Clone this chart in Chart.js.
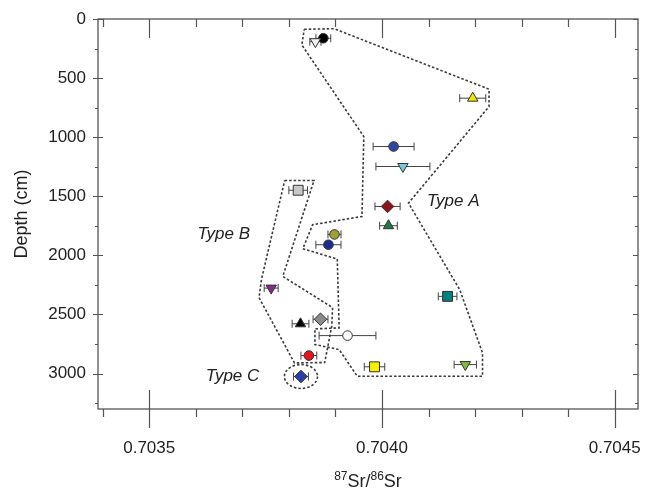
<!DOCTYPE html>
<html>
<head>
<meta charset="utf-8">
<script src="https://cdn.jsdelivr.net/npm/chart.js@4"></script>
<style>
  body { margin: 0; background: #fff; }
  #srChart { display: block; }
</style>
</head>
<body>
<canvas id="srChart" width="646" height="494"></canvas>
<script>
// Amostras: razão 87Sr/86Sr, profundidade (cm) e erro (2σ)
const sampleRatio = [0.703874, 0.703857, 0.704195, 0.704025, 0.704045, 0.703820, 0.704012, 0.704014, 0.703898, 0.703885,
                     0.703762, 0.704141, 0.703825, 0.703868, 0.703926, 0.703843, 0.703984, 0.704179, 0.703826];
const sampleDepth = [163, 192, 670, 1079, 1248, 1449, 1586, 1749, 1823, 1910,
                     2277, 2347, 2579, 2541, 2679, 2848, 2943, 2924, 3025];
const sampleError = [0.000016, 0.000012, 0.000028, 0.000044, 0.000058, 0.000020, 0.000027, 0.000019, 0.000014, 0.000027,
                     0.000015, 0.000020, 0.000018, 0.000016, 0.000061, 0.000017, 0.000022, 0.000024, 0.000016];
const sampleColor = ['#000000', '#f2f2f2', '#f2e600', '#2e46a8', '#78c8dc', '#c8c8c8', '#8e1418', '#1f7a44', '#a0a030', '#1c2c8c',
                     '#862a8a', '#00807e', '#000000', '#8a8a8a', '#ffffff', '#e8141c', '#f8f000', '#80b840', '#2840a8'];
const sampleShape = ['circle', 'triangleDown', 'triangle', 'circle', 'triangleDown', 'rect', 'diamond', 'triangle', 'circle', 'circle',
                     'triangleDown', 'rect', 'triangle', 'diamond', 'circle', 'circle', 'rect', 'triangleDown', 'diamond'];

// Contornos dos grupos
const typeARatio = [0.703833, 0.703897, 0.704230, 0.704230, 0.704057, 0.704167, 0.704216, 0.704216, 0.703947, 0.703908,
                    0.703856, 0.703856, 0.703908, 0.703904, 0.703830, 0.703851, 0.703957, 0.703961, 0.703828];
const typeADepth = [87, 82, 594, 741, 1558, 2290, 2825, 3023, 3023, 2797,
                    2755, 2622, 2614, 2031, 1944, 1741, 1671, 995, 220];
const typeBRatio = [0.703791, 0.703854, 0.703787, 0.703894, 0.703892, 0.703877, 0.703812, 0.703736, 0.703741];
const typeBDepth = [1367, 1367, 2178, 2442, 2603, 2907, 2910, 2358, 2206];
const typeCCentre = [0.703826, 3025];
const typeCRadius = [0.0000355, 101];

const typeLabels = ['Type A', 'Type B', 'Type C'];
const typeLabelRatio = [0.704153, 0.703660, 0.703679];
const typeLabelDepth = [1544, 1825, 3025];

// Eixos
const xMin = 0.70339, xMax = 0.70455;
const yMin = 0, yMax = 3300;
const xTickValues = [0.7035, 0.7040, 0.7045];
const yTickValues = [0, 500, 1000, 1500, 2000, 2500, 3000];

const FONT = "'Liberation Sans', Arial, sans-serif";
const AXIS_COLOR = '#555';

function shapeStyle(shape) {
    if (shape === 'circle') return { style: 'circle', rot: 0, r: 4.8 };
    if (shape === 'triangle') return { style: 'triangle', rot: 0, r: 6 };
    if (shape === 'triangleDown') return { style: 'triangle', rot: 180, r: 6 };
    if (shape === 'rect') return { style: 'rect', rot: 0, r: 7 };
    return { style: 'rectRot', rot: 0, r: 6.3 }; // diamond
}

function closedPolygon(xs, ys) {
    const pts = xs.map((x, i) => ({ x: x, y: ys[i] }));
    pts.push({ x: xs[0], y: ys[0] });
    return pts;
}

const styles = sampleShape.map(shapeStyle);

const datasets = [];

// Amostras (desenhadas por cima)
datasets.push({
    type: 'scatter',
    label: 'samples',
    order: 0,
    data: sampleRatio.map((x, i) => ({ x: x, y: sampleDepth[i] })),
    pointStyle: styles.map(s => s.style),
    rotation: styles.map(s => s.rot),
    pointRadius: styles.map(s => s.r),
    backgroundColor: sampleColor,
    borderColor: '#333',
    borderWidth: 1
});

// Barras de erro
sampleRatio.forEach((x, i) => {
    datasets.push({
        type: 'line',
        label: 'err' + i,
        order: 1,
        data: [{ x: x - sampleError[i], y: sampleDepth[i] }, { x: x + sampleError[i], y: sampleDepth[i] }],
        borderColor: '#444',
        borderWidth: 1,
        pointStyle: 'line',
        rotation: 90,
        pointRadius: 4,
        pointBorderWidth: 1,
        pointBorderColor: '#444',
        fill: false
    });
});

// Contornos tracejados
[[typeARatio, typeADepth], [typeBRatio, typeBDepth]].forEach(([xs, ys], k) => {
    datasets.push({
        type: 'line',
        label: 'type' + k,
        order: 2,
        data: closedPolygon(xs, ys),
        borderColor: '#3a3a3a',
        borderWidth: 1.6,
        borderDash: [2.5, 2],
        pointRadius: 0,
        tension: 0,
        fill: false
    });
});

// Plugin: moldura, marcas dos eixos, elipse do tipo C, rótulos e título do eixo x
const decorPlugin = {
    id: 'decor',
    afterDatasetsDraw(chart) {
        const { ctx, scales: { x, y } } = chart;
        ctx.save();
        // elipse tipo C
        const cx = x.getPixelForValue(typeCCentre[0]);
        const cy = y.getPixelForValue(typeCCentre[1]);
        const rx = Math.abs(x.getPixelForValue(typeCCentre[0] + typeCRadius[0]) - cx);
        const ry = Math.abs(y.getPixelForValue(typeCCentre[1] + typeCRadius[1]) - cy);
        ctx.strokeStyle = '#3a3a3a';
        ctx.lineWidth = 1.6;
        ctx.setLineDash([2.5, 2]);
        ctx.beginPath();
        ctx.ellipse(cx, cy, rx, ry, 0, 0, Math.PI * 2);
        ctx.stroke();
        ctx.setLineDash([]);

        // rótulos
        ctx.fillStyle = '#222';
        ctx.font = 'italic 17px ' + FONT;
        ctx.textAlign = 'center';
        ctx.textBaseline = 'middle';
        typeLabels.forEach((t, i) => {
            ctx.fillText(t, x.getPixelForValue(typeLabelRatio[i]), y.getPixelForValue(typeLabelDepth[i]));
        });
        ctx.restore();
    },
    afterDraw(chart) {
        const { ctx, chartArea: a, scales: { x, y } } = chart;
        ctx.save();
        ctx.strokeStyle = AXIS_COLOR;
        ctx.lineWidth = 1.3;
        ctx.strokeRect(a.left, a.top, a.right - a.left, a.bottom - a.top);

        ctx.lineWidth = 1.2;
        ctx.beginPath();
        // marcas do eixo x, a cada 0.0001
        for (let k = Math.ceil(xMin * 10000); k <= Math.floor(xMax * 10000); k++) {
            const px = Math.round(x.getPixelForValue(k / 10000)) + 0.5;
            const major = k % 5 === 0;
            if (major) {
                ctx.moveTo(px, a.bottom - 19); ctx.lineTo(px, a.bottom + 19);
                ctx.moveTo(px, a.top); ctx.lineTo(px, a.top + 19);
            } else {
                ctx.moveTo(px, a.bottom); ctx.lineTo(px, a.bottom + 8);
                ctx.moveTo(px, a.top); ctx.lineTo(px, a.top + 8);
            }
        }
        // marcas do eixo y, a cada 250
        for (let d = yMin; d <= yMax; d += 250) {
            const py = Math.round(y.getPixelForValue(d)) + 0.5;
            const major = d % 500 === 0;
            if (major) {
                ctx.moveTo(a.left - 5, py); ctx.lineTo(a.left + 5, py);
                ctx.moveTo(a.right - 5, py); ctx.lineTo(a.right, py);
            } else {
                ctx.moveTo(a.left - 3, py); ctx.lineTo(a.left, py);
                ctx.moveTo(a.right - 3, py); ctx.lineTo(a.right, py);
            }
        }
        ctx.stroke();

        // título do eixo x com sobrescritos
        const parts = [['87', 12, -7], ['Sr/', 18, 0], ['86', 12, -7], ['Sr', 18, 0]];
        let total = 0;
        parts.forEach(p => { ctx.font = p[1] + 'px ' + FONT; total += ctx.measureText(p[0]).width; });
        let tx = (a.left + a.right) / 2 - total / 2;
        const ty = 487;
        ctx.fillStyle = '#222';
        ctx.textAlign = 'left';
        ctx.textBaseline = 'alphabetic';
        parts.forEach(p => {
            ctx.font = p[1] + 'px ' + FONT;
            ctx.fillText(p[0], tx, ty + p[2]);
            tx += ctx.measureText(p[0]).width;
        });
        ctx.restore();
    }
};

const ctx = document.getElementById('srChart');

const srChart = new Chart(ctx, {
    data: { datasets: datasets },
    options: {
        responsive: false,
        animation: false,
        devicePixelRatio: 1,
        layout: { padding: { top: 19, right: 7, bottom: 0, left: 0 } },
        plugins: {
            legend: { display: false },
            tooltip: { enabled: false }
        },
        scales: {
            x: {
                type: 'linear',
                position: 'bottom',
                min: xMin,
                max: xMax,
                afterBuildTicks: s => { s.ticks = xTickValues.map(v => ({ value: v })); },
                afterFit: s => { s.height = 85; s.paddingLeft = 0; s.paddingRight = 0; },
                ticks: {
                    autoSkip: false,
                    maxRotation: 0,
                    padding: 10,
                    color: '#222',
                    font: { family: FONT, size: 17 },
                    callback: v => Number(v).toFixed(4)
                },
                grid: { drawOnChartArea: false, drawTicks: true, tickLength: 19, tickColor: 'rgba(0,0,0,0)' },
                border: { display: false }
            },
            y: {
                type: 'linear',
                reverse: true,
                min: yMin,
                max: yMax,
                afterBuildTicks: s => { s.ticks = yTickValues.map(v => ({ value: v })); },
                afterFit: s => { s.width = 98; s.paddingTop = 0; s.paddingBottom = 0; },
                ticks: {
                    padding: 7,
                    color: '#222',
                    font: { family: FONT, size: 17 },
                    callback: v => String(v)
                },
                grid: { drawOnChartArea: false, drawTicks: true, tickLength: 5, tickColor: 'rgba(0,0,0,0)' },
                border: { display: false },
                title: {
                    display: true,
                    text: 'Depth (cm)',
                    color: '#222',
                    font: { family: FONT, size: 18 },
                    padding: { top: 11, bottom: 4 }
                }
            }
        }
    },
    plugins: [decorPlugin]
});
</script>
</body>
</html>
